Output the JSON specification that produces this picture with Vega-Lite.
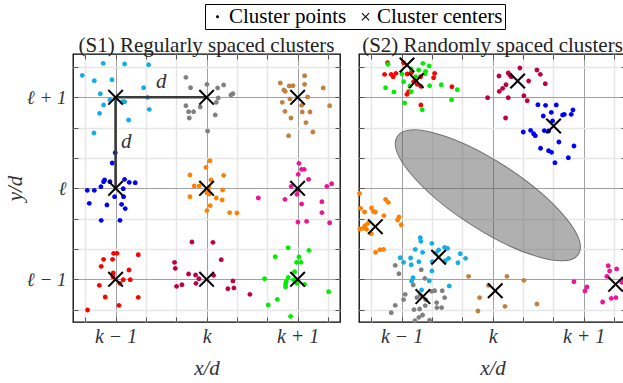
{
  "$schema": "https://vega.github.io/schema/vega-lite/v6.json",
  "autosize": {"type": "pad"},
  "padding": {"left": 3, "top": 3, "right": 0, "bottom": 0},
  "background": "white",
  "config": {
    "view": {"stroke": "black", "strokeWidth": 1.3},
    "font": "Liberation Serif",
    "title": {"font": "Liberation Serif", "fontSize": 21, "fontWeight": "normal", "color": "#222", "offset": -2, "anchor": "middle"},
    "legend": {"orient": "none", "legendX": 132, "legendY": -50, "direction": "horizontal", "title": null,
      "strokeColor": "black", "padding": 2, "labelFont": "Liberation Serif", "labelFontSize": 21, "labelColor": "black",
      "columnPadding": 8, "labelOffset": 1, "symbolOffset": 0, "symbolSize": 64}
  },
  "datasets": {
    "pts1": [
      {"u": -1.136, "v": 1.374, "c": "lb"}, {"u": -0.901, "v": 1.366, "c": "lb"}, {"u": -0.637, "v": 1.359, "c": "lb"}, {"u": -1.366, "v": 1.242, "c": "lb"}, {"u": -1.234, "v": 1.183, "c": "lb"}, {"u": -1.04, "v": 1.194, "c": "lb"}, {"u": -1.168, "v": 1.04, "c": "lb"}, {"u": -1.062, "v": 0.971, "c": "lb"}, {"u": -0.927, "v": 0.952, "c": "lb"}, {"u": -0.901, "v": 0.952, "c": "lb"}, {"u": -1.132, "v": 0.916, "c": "lb"}, {"u": -0.648, "v": 1.0, "c": "lb"}, {"u": -0.692, "v": 1.106, "c": "lb"}, {"u": -1.176, "v": 0.824, "c": "lb"}, {"u": -0.63, "v": 0.868, "c": "lb"}, {"u": -0.857, "v": 0.751, "c": "lb"}, {"u": -1.238, "v": 0.608, "c": "lb"},
      {"u": -0.227, "v": 1.22, "c": "gr"}, {"u": -0.176, "v": 1.106, "c": "gr"}, {"u": 0.004, "v": 1.143, "c": "gr"}, {"u": 0.187, "v": 1.136, "c": "gr"}, {"u": 0.121, "v": 1.103, "c": "gr"}, {"u": 0.267, "v": 1.026, "c": "gr"}, {"u": 0.289, "v": 1.04, "c": "gr"}, {"u": 0.128, "v": 0.993, "c": "gr"}, {"u": 0.106, "v": 0.945, "c": "gr"}, {"u": -0.07, "v": 0.894, "c": "gr"}, {"u": -0.227, "v": 0.908, "c": "gr"}, {"u": -0.198, "v": 0.842, "c": "gr"}, {"u": -0.143, "v": 0.842, "c": "gr"}, {"u": -0.19, "v": 0.773, "c": "gr"}, {"u": 0.095, "v": 0.806, "c": "gr"}, {"u": 0.011, "v": 0.63, "c": "gr"},
      {"u": 0.81, "v": 1.158, "c": "br"}, {"u": 1.077, "v": 1.238, "c": "br"}, {"u": 0.908, "v": 1.125, "c": "br"}, {"u": 0.949, "v": 1.128, "c": "br"}, {"u": 0.85, "v": 1.081, "c": "br"}, {"u": 0.864, "v": 1.066, "c": "br"}, {"u": 1.077, "v": 1.143, "c": "br"}, {"u": 1.282, "v": 1.103, "c": "br"}, {"u": 1.11, "v": 1.004, "c": "br"}, {"u": 0.916, "v": 0.982, "c": "br"}, {"u": 0.832, "v": 0.945, "c": "br"}, {"u": 1.044, "v": 0.912, "c": "br"}, {"u": 0.861, "v": 0.846, "c": "br"}, {"u": 1.051, "v": 0.839, "c": "br"}, {"u": 1.136, "v": 0.839, "c": "br"}, {"u": 1.352, "v": 0.908, "c": "br"}, {"u": 0.927, "v": 0.773, "c": "br"}, {"u": 1.092, "v": 0.722, "c": "br"}, {"u": 1.168, "v": 0.619, "c": "br"}, {"u": 0.901, "v": 0.579, "c": "br"},
      {"u": -1.004, "v": 0.392, "c": "bl"}, {"u": -1.037, "v": 0.278, "c": "bl"}, {"u": -1.121, "v": 0.092, "c": "bl"}, {"u": -1.132, "v": 0.073, "c": "bl"}, {"u": -1.161, "v": 0.018, "c": "bl"}, {"u": -1.311, "v": -0.022, "c": "bl"}, {"u": -1.234, "v": -0.022, "c": "bl"}, {"u": -1.062, "v": 0.073, "c": "bl"}, {"u": -1.011, "v": -0.092, "c": "bl"}, {"u": -0.901, "v": 0.099, "c": "bl"}, {"u": -0.85, "v": 0.066, "c": "bl"}, {"u": -0.784, "v": 0.062, "c": "bl"}, {"u": -0.916, "v": -0.004, "c": "bl"}, {"u": -1.289, "v": -0.165, "c": "bl"}, {"u": -1.095, "v": -0.183, "c": "bl"}, {"u": -0.934, "v": -0.176, "c": "bl"}, {"u": -0.894, "v": -0.223, "c": "bl"}, {"u": -1.158, "v": -0.352, "c": "bl"}, {"u": -0.952, "v": -0.352, "c": "bl"}, {"u": -0.912, "v": -0.092, "c": "bl"},
      {"u": 0.037, "v": 0.304, "c": "or"}, {"u": -0.007, "v": 0.231, "c": "or"}, {"u": -0.183, "v": 0.147, "c": "or"}, {"u": 0.187, "v": 0.143, "c": "or"}, {"u": 0.048, "v": 0.092, "c": "or"}, {"u": -0.136, "v": 0.026, "c": "or"}, {"u": -0.081, "v": 0.026, "c": "or"}, {"u": 0.026, "v": 0.004, "c": "or"}, {"u": 0.004, "v": -0.048, "c": "or"}, {"u": 0.029, "v": -0.062, "c": "or"}, {"u": 0.176, "v": -0.018, "c": "or"}, {"u": 0.106, "v": -0.106, "c": "or"}, {"u": -0.183, "v": -0.092, "c": "or"}, {"u": 0.172, "v": -0.128, "c": "or"}, {"u": 0.04, "v": -0.19, "c": "or"}, {"u": 0.004, "v": -0.245, "c": "or"}, {"u": 0.253, "v": -0.267, "c": "or"}, {"u": 0.333, "v": -0.271, "c": "or"},
      {"u": 1.015, "v": 0.275, "c": "pk"}, {"u": 1.044, "v": 0.209, "c": "pk"}, {"u": 1.073, "v": 0.209, "c": "pk"}, {"u": 1.007, "v": 0.154, "c": "pk"}, {"u": 1.121, "v": 0.099, "c": "pk"}, {"u": 0.93, "v": 0.022, "c": "pk"}, {"u": 1.007, "v": -0.022, "c": "pk"}, {"u": 1.322, "v": 0.022, "c": "pk"}, {"u": 1.374, "v": 0.051, "c": "pk"}, {"u": 0.568, "v": -0.106, "c": "pk"}, {"u": 0.861, "v": -0.121, "c": "pk"}, {"u": 0.993, "v": -0.066, "c": "pk"}, {"u": 1.044, "v": -0.172, "c": "pk"}, {"u": 1.267, "v": -0.147, "c": "pk"}, {"u": 1.267, "v": -0.267, "c": "pk"}, {"u": 1.004, "v": -0.37, "c": "pk"}, {"u": 1.099, "v": -0.363, "c": "pk"}, {"u": 1.352, "v": -0.377, "c": "pk"},
      {"u": -1.022, "v": -0.714, "c": "rd"}, {"u": -0.985, "v": -0.714, "c": "rd"}, {"u": -0.751, "v": -0.729, "c": "rd"}, {"u": -1.132, "v": -0.78, "c": "rd"}, {"u": -1.033, "v": -0.78, "c": "rd"}, {"u": -1.158, "v": -0.857, "c": "rd"}, {"u": -1.026, "v": -0.93, "c": "rd"}, {"u": -0.853, "v": -0.897, "c": "rd"}, {"u": -0.916, "v": -1.004, "c": "rd"}, {"u": -0.839, "v": -1.004, "c": "rd"}, {"u": -1.179, "v": -1.066, "c": "rd"}, {"u": -0.952, "v": -1.044, "c": "rd"}, {"u": -1.114, "v": -1.194, "c": "rd"}, {"u": -0.751, "v": -1.198, "c": "rd"}, {"u": -0.963, "v": -1.286, "c": "rd"}, {"u": -1.308, "v": -1.337, "c": "rd"}, {"u": -1.029, "v": -0.971, "c": "rd"},
      {"u": -0.161, "v": -0.59, "c": "cr"}, {"u": 0.07, "v": -0.593, "c": "cr"}, {"u": 0.161, "v": -0.784, "c": "cr"}, {"u": -0.352, "v": -0.813, "c": "cr"}, {"u": -0.344, "v": -0.879, "c": "cr"}, {"u": -0.198, "v": -0.941, "c": "cr"}, {"u": -0.121, "v": -0.952, "c": "cr"}, {"u": -0.084, "v": -0.993, "c": "cr"}, {"u": 0.077, "v": -0.956, "c": "cr"}, {"u": 0.289, "v": -1.018, "c": "cr"}, {"u": -0.33, "v": -1.077, "c": "cr"}, {"u": -0.271, "v": -1.059, "c": "cr"}, {"u": -0.117, "v": -1.044, "c": "cr"}, {"u": 0.234, "v": -1.103, "c": "cr"}, {"u": 0.3, "v": -1.095, "c": "cr"}, {"u": 0.476, "v": -1.165, "c": "cr"},
      {"u": 0.897, "v": -0.652, "c": "gn"}, {"u": 1.125, "v": -0.681, "c": "gn"}, {"u": 0.755, "v": -0.751, "c": "gn"}, {"u": 1.015, "v": -0.755, "c": "gn"}, {"u": 0.989, "v": -0.813, "c": "gn"}, {"u": 1.037, "v": -0.813, "c": "gn"}, {"u": 0.637, "v": -0.993, "c": "gn"}, {"u": 0.967, "v": -0.916, "c": "gn"}, {"u": 0.897, "v": -0.978, "c": "gn"}, {"u": 0.875, "v": -1.022, "c": "gn"}, {"u": 0.868, "v": -1.051, "c": "gn"}, {"u": 0.868, "v": -1.081, "c": "gn"}, {"u": 0.956, "v": -1.007, "c": "gn"}, {"u": 0.993, "v": -1.044, "c": "gn"}, {"u": 1.077, "v": -1.055, "c": "gn"}, {"u": 1.341, "v": -1.136, "c": "gn"}, {"u": 0.777, "v": -1.22, "c": "gn"}, {"u": 0.678, "v": -1.282, "c": "gn"}, {"u": 0.923, "v": -1.407, "c": "gn"}
    ],
    "pts2": [
      {"u": -1.154, "v": 1.381, "c": "rd"}, {"u": -1.187, "v": 1.253, "c": "rd"}, {"u": -1.114, "v": 1.253, "c": "rd"}, {"u": -1.062, "v": 1.264, "c": "rd"}, {"u": -1.092, "v": 1.227, "c": "rd"}, {"u": -0.938, "v": 1.256, "c": "rd"}, {"u": -0.894, "v": 1.271, "c": "rd"}, {"u": -0.791, "v": 1.227, "c": "rd"}, {"u": -0.637, "v": 1.264, "c": "rd"}, {"u": -0.648, "v": 1.216, "c": "rd"}, {"u": -0.868, "v": 1.172, "c": "rd"}, {"u": -0.828, "v": 1.143, "c": "rd"}, {"u": -0.788, "v": 1.121, "c": "rd"}, {"u": -0.447, "v": 1.117, "c": "rd"}, {"u": -0.923, "v": 1.062, "c": "rd"}, {"u": -0.941, "v": 1.033, "c": "rd"}, {"u": -0.788, "v": 0.916, "c": "rd"}, {"u": -0.978, "v": 1.381, "c": "rd"},
      {"u": -1.15, "v": 1.363, "c": "gn"}, {"u": -0.766, "v": 1.374, "c": "gn"}, {"u": -0.696, "v": 1.344, "c": "gn"}, {"u": -0.894, "v": 1.311, "c": "gn"}, {"u": -0.813, "v": 1.3, "c": "gn"}, {"u": -0.736, "v": 1.286, "c": "gn"}, {"u": -0.744, "v": 1.26, "c": "gn"}, {"u": -0.996, "v": 1.256, "c": "gn"}, {"u": -0.846, "v": 1.227, "c": "gn"}, {"u": -0.978, "v": 1.172, "c": "gn"}, {"u": -0.908, "v": 1.125, "c": "gn"}, {"u": -0.692, "v": 1.128, "c": "gn"}, {"u": -0.564, "v": 1.139, "c": "gn"}, {"u": -0.388, "v": 1.084, "c": "gn"}, {"u": -1.176, "v": 1.106, "c": "gn"}, {"u": -1.084, "v": 1.059, "c": "gn"}, {"u": -0.894, "v": 1.062, "c": "gn"}, {"u": -0.967, "v": 0.938, "c": "gn"}, {"u": -0.451, "v": 0.974, "c": "gn"}, {"u": -0.773, "v": 0.864, "c": "gn"},
      {"u": 0.3, "v": 1.322, "c": "cr"}, {"u": 0.487, "v": 1.3, "c": "cr"}, {"u": 0.524, "v": 1.253, "c": "cr"}, {"u": 0.07, "v": 1.234, "c": "cr"}, {"u": 0.172, "v": 1.267, "c": "cr"}, {"u": 0.19, "v": 1.245, "c": "cr"}, {"u": 0.205, "v": 1.227, "c": "cr"}, {"u": 0.147, "v": 1.139, "c": "cr"}, {"u": 0.11, "v": 1.099, "c": "cr"}, {"u": 0.073, "v": 1.066, "c": "cr"}, {"u": 0.396, "v": 1.179, "c": "cr"}, {"u": 0.579, "v": 1.15, "c": "cr"}, {"u": 0.344, "v": 1.018, "c": "cr"}, {"u": -0.055, "v": 0.996, "c": "cr"}, {"u": 0.172, "v": 0.996, "c": "cr"}, {"u": 0.381, "v": 0.963, "c": "cr"}, {"u": 0.143, "v": 0.773, "c": "cr"},
      {"u": 0.582, "v": 0.912, "c": "bl"}, {"u": 0.7, "v": 0.916, "c": "bl"}, {"u": 0.498, "v": 0.919, "c": "bl"}, {"u": 0.557, "v": 0.795, "c": "bl"}, {"u": 0.645, "v": 0.835, "c": "bl"}, {"u": 0.769, "v": 0.806, "c": "bl"}, {"u": 0.788, "v": 0.813, "c": "bl"}, {"u": 0.864, "v": 0.813, "c": "bl"}, {"u": 0.883, "v": 0.861, "c": "bl"}, {"u": 0.659, "v": 0.74, "c": "bl"}, {"u": 0.615, "v": 0.63, "c": "bl"}, {"u": 0.337, "v": 0.619, "c": "bl"}, {"u": 0.418, "v": 0.637, "c": "bl"}, {"u": 0.451, "v": 0.601, "c": "bl"}, {"u": 0.469, "v": 0.579, "c": "bl"}, {"u": 0.568, "v": 0.634, "c": "bl"}, {"u": 0.729, "v": 0.509, "c": "bl"}, {"u": 0.527, "v": 0.44, "c": "bl"}, {"u": 0.615, "v": 0.414, "c": "bl"}, {"u": 0.648, "v": 0.396, "c": "bl"}, {"u": 0.894, "v": 0.465, "c": "bl"}, {"u": 0.832, "v": 0.337, "c": "bl"}, {"u": 0.685, "v": 0.282, "c": "bl"},
      {"u": -1.462, "v": -0.055, "c": "or"}, {"u": -1.176, "v": -0.121, "c": "or"}, {"u": -1.147, "v": -0.154, "c": "or"}, {"u": -1.33, "v": -0.216, "c": "or"}, {"u": -1.311, "v": -0.253, "c": "or"}, {"u": -1.289, "v": -0.26, "c": "or"}, {"u": -1.407, "v": -0.26, "c": "or"}, {"u": -1.45, "v": -0.22, "c": "or"}, {"u": -1.194, "v": -0.3, "c": "or"}, {"u": -1.029, "v": -0.315, "c": "or"}, {"u": -1.044, "v": -0.348, "c": "or"}, {"u": -1.37, "v": -0.385, "c": "or"}, {"u": -1.403, "v": -0.41, "c": "or"}, {"u": -1.425, "v": -0.44, "c": "or"}, {"u": -1.385, "v": -0.451, "c": "or"}, {"u": -1.458, "v": -0.447, "c": "or"}, {"u": -1.004, "v": -0.399, "c": "or"}, {"u": -1.333, "v": -0.498, "c": "or"}, {"u": -1.286, "v": -0.703, "c": "or"}, {"u": -1.238, "v": -0.674, "c": "or"}, {"u": -1.198, "v": -0.67, "c": "or"},
      {"u": -0.795, "v": -0.542, "c": "lb"}, {"u": -0.788, "v": -0.582, "c": "lb"}, {"u": -0.667, "v": -0.604, "c": "lb"}, {"u": -0.593, "v": -0.678, "c": "lb"}, {"u": -0.527, "v": -0.648, "c": "lb"}, {"u": -0.495, "v": -0.659, "c": "lb"}, {"u": -0.85, "v": -0.67, "c": "lb"}, {"u": -0.769, "v": -0.703, "c": "lb"}, {"u": -0.623, "v": -0.711, "c": "lb"}, {"u": -1.015, "v": -0.762, "c": "lb"}, {"u": -0.901, "v": -0.766, "c": "lb"}, {"u": -0.81, "v": -0.806, "c": "lb"}, {"u": -0.663, "v": -0.806, "c": "lb"}, {"u": -0.52, "v": -0.795, "c": "lb"}, {"u": -0.484, "v": -0.769, "c": "lb"}, {"u": -0.355, "v": -0.718, "c": "lb"}, {"u": -0.297, "v": -0.769, "c": "lb"}, {"u": -0.381, "v": -0.817, "c": "lb"}, {"u": -0.978, "v": -0.813, "c": "lb"}, {"u": -0.894, "v": -0.839, "c": "lb"}, {"u": -0.667, "v": -0.908, "c": "lb"}, {"u": -0.875, "v": -0.982, "c": "lb"}, {"u": -0.89, "v": -1.018, "c": "lb"}, {"u": -0.696, "v": -1.015, "c": "lb"}, {"u": -0.476, "v": -1.073, "c": "lb"}, {"u": -0.78, "v": -1.117, "c": "lb"},
      {"u": -1.07, "v": -0.846, "c": "gr"}, {"u": -1.029, "v": -0.938, "c": "gr"}, {"u": -0.784, "v": -0.894, "c": "gr"}, {"u": -0.744, "v": -0.989, "c": "gr"}, {"u": -0.872, "v": -1.062, "c": "gr"}, {"u": -0.67, "v": -1.132, "c": "gr"}, {"u": -0.637, "v": -1.125, "c": "gr"}, {"u": -0.553, "v": -1.125, "c": "gr"}, {"u": -0.832, "v": -1.201, "c": "gr"}, {"u": -0.795, "v": -1.172, "c": "gr"}, {"u": -0.96, "v": -1.165, "c": "gr"}, {"u": -0.978, "v": -1.223, "c": "gr"}, {"u": -0.736, "v": -1.223, "c": "gr"}, {"u": -0.615, "v": -1.256, "c": "gr"}, {"u": -0.527, "v": -1.201, "c": "gr"}, {"u": -1.07, "v": -1.286, "c": "gr"}, {"u": -1.114, "v": -1.366, "c": "gr"}, {"u": -0.864, "v": -1.333, "c": "gr"}, {"u": -0.802, "v": -1.326, "c": "gr"}, {"u": -0.612, "v": -1.311, "c": "gr"}, {"u": -0.56, "v": -1.311, "c": "gr"}, {"u": -0.769, "v": -1.392, "c": "gr"}, {"u": -0.81, "v": -1.418, "c": "gr"}, {"u": -0.853, "v": -1.455, "c": "gr"}, {"u": -0.692, "v": -1.45, "c": "gr"}, {"u": -0.74, "v": -1.289, "c": "gr"},
      {"u": -0.264, "v": -0.967, "c": "br"}, {"u": 0.158, "v": -0.967, "c": "br"}, {"u": 0.344, "v": -1.011, "c": "br"}, {"u": -0.143, "v": -1.201, "c": "br"}, {"u": 0.136, "v": -1.297, "c": "br"}, {"u": -0.161, "v": -1.348, "c": "br"}, {"u": 0.487, "v": -1.271, "c": "br"}, {"u": -0.044, "v": -1.066, "c": "br"},
      {"u": 1.271, "v": -0.85, "c": "pk"}, {"u": 1.286, "v": -0.908, "c": "pk"}, {"u": 1.363, "v": -0.886, "c": "pk"}, {"u": 1.256, "v": -0.967, "c": "pk"}, {"u": 0.894, "v": -1.026, "c": "pk"}, {"u": 1.037, "v": -1.084, "c": "pk"}, {"u": 1.015, "v": -1.128, "c": "pk"}, {"u": 1.209, "v": -1.249, "c": "pk"}, {"u": 1.304, "v": -1.209, "c": "pk"}, {"u": 1.355, "v": -1.201, "c": "pk"}, {"u": 1.421, "v": -1.033, "c": "pk"}
    ],
    "cen1": [
      {"u": -1, "v": 1}, {"u": 0, "v": 1}, {"u": 1, "v": 1},
      {"u": -1, "v": 0}, {"u": 0, "v": 0}, {"u": 1, "v": 0},
      {"u": -1, "v": -1}, {"u": 0, "v": -1}, {"u": 1, "v": -1}
    ],
    "cen2": [
      {"u": -0.941, "v": 1.355}, {"u": -0.839, "v": 1.183}, {"u": 0.275, "v": 1.179},
      {"u": 0.67, "v": 0.685}, {"u": -1.289, "v": -0.421}, {"u": -0.593, "v": -0.758},
      {"u": -0.766, "v": -1.19}, {"u": 0.029, "v": -1.125}, {"u": 1.352, "v": -1.055}
    ],
    "dlines": [
      {"u": -1, "v": 1, "u2": 0, "v2": 1},
      {"u": -1, "v": 1, "u2": -1, "v2": 0}
    ],
    "dlabels": [
      {"u": -0.498, "v": 1.165, "t": "d"},
      {"u": -0.883, "v": 0.513, "t": "d"}
    ],
    "ell": [{"u": -0.052, "v": -0.077}]
  },
  "spacing": 14,
  "hconcat": [
    {
      "width": 267,
      "height": 268,
      "title": {"text": "(S1) Regularly spaced clusters"},
      "resolve": {"axis": {"x": "independent", "y": "independent"}},
      "layer": [
        {
          "data": {"name": "pts1"},
          "mark": {"type": "point", "filled": true, "size": 160, "opacity": 1},
          "encoding": {
            "x": {"field": "u", "type": "quantitative", "scale": {"domain": [-1.468, 1.466], "nice": false, "zero": false},
              "axis": {"orient": "bottom", "values": [-1.3333, -1, -0.6667, -0.3333, 0, 0.3333, 0.6667, 1, 1.3333],
                "labelExpr": "abs(datum.value+1)<0.01 ? 'k − 1' : abs(datum.value)<0.01 ? 'k' : abs(datum.value-1)<0.01 ? 'k + 1' : ''",
                "labelOverlap": false, "labelFlush": false, "grid": true,
                "gridColor": {"condition": {"test": "abs(datum.value - round(datum.value)) < 0.01", "value": "#a0a0a0"}, "value": "#e6e6e6"},
                "gridWidth": {"condition": {"test": "abs(datum.value - round(datum.value)) < 0.01", "value": 1}, "value": 1.5},
                "domain": false, "tickSize": -5, "tickColor": "#555", "tickWidth": 1,
                "labelFont": "Liberation Serif", "labelFontStyle": "italic", "labelFontSize": 20, "labelColor": "#333", "labelPadding": 9,
                "title": "x/d", "titleFont": "Liberation Serif", "titleFontStyle": "italic", "titleFontWeight": "normal", "titleFontSize": 21, "titleColor": "#333", "titlePadding": 11}},
            "y": {"field": "v", "type": "quantitative", "scale": {"domain": [-1.469, 1.476], "nice": false, "zero": false},
              "axis": {"orient": "left", "values": [-1.3333, -1, -0.6667, -0.3333, 0, 0.3333, 0.6667, 1, 1.3333],
                "labelExpr": "abs(datum.value+1)<0.01 ? 'ℓ − 1' : abs(datum.value)<0.01 ? 'ℓ' : abs(datum.value-1)<0.01 ? 'ℓ + 1' : ''",
                "labelOverlap": false, "labelFlush": false, "grid": true,
                "gridColor": {"condition": {"test": "abs(datum.value - round(datum.value)) < 0.01", "value": "#a0a0a0"}, "value": "#e6e6e6"},
                "gridWidth": {"condition": {"test": "abs(datum.value - round(datum.value)) < 0.01", "value": 1}, "value": 1.5},
                "domain": false, "tickSize": -5, "tickColor": "#555", "tickWidth": 1,
                "labelFont": "Liberation Serif", "labelFontStyle": "italic", "labelFontSize": 19, "labelColor": "#333", "labelPadding": 12,
                "title": "y/d", "titleFont": "Liberation Serif", "titleFontStyle": "italic", "titleFontWeight": "normal", "titleFontSize": 21, "titleColor": "#333", "titlePadding": 1}},
            "color": {"field": "c", "type": "nominal", "legend": null,
              "scale": {"domain": ["lb", "gr", "br", "bl", "or", "pk", "rd", "cr", "gn"],
                "range": ["#12aee8", "#808080", "#bf8040", "#0000ff", "#ff8000", "#ee1493", "#ff0000", "#bf0040", "#00ee00"]}},
            "shape": {"datum": "Cluster points", "type": "nominal",
              "scale": {"domain": ["Cluster points", "Cluster centers"],
                "range": ["M-0.38,0A0.38,0.38,0,1,1,0.38,0A0.38,0.38,0,1,1,-0.38,0Z", "M0,0.18L0.82,1L1,0.82L0.18,0L1,-0.82L0.82,-1L0,-0.18L-0.82,-1L-1,-0.82L-0.18,0L-1,0.82L-0.82,1Z"]}}
          }
        },
        {
          "data": {"name": "dlines"},
          "mark": {"type": "rule", "color": "#3a3a3a", "strokeWidth": 2.6},
          "encoding": {
            "x": {"field": "u", "type": "quantitative", "scale": {"domain": [-1.468, 1.466], "nice": false, "zero": false}, "axis": null},
            "y": {"field": "v", "type": "quantitative", "scale": {"domain": [-1.469, 1.476], "nice": false, "zero": false}, "axis": null},
            "x2": {"field": "u2"},
            "y2": {"field": "v2"}
          }
        },
        {
          "data": {"name": "dlabels"},
          "mark": {"type": "text", "font": "Liberation Serif", "fontStyle": "italic", "fontSize": 21, "color": "#333"},
          "encoding": {
            "x": {"field": "u", "type": "quantitative", "scale": {"domain": [-1.468, 1.466], "nice": false, "zero": false}, "axis": null},
            "y": {"field": "v", "type": "quantitative", "scale": {"domain": [-1.469, 1.476], "nice": false, "zero": false}, "axis": null},
            "text": {"field": "t"}
          }
        },
        {
          "data": {"name": "cen1"},
          "mark": {"type": "point", "filled": true, "size": 256, "opacity": 1, "color": "black"},
          "encoding": {
            "x": {"field": "u", "type": "quantitative", "scale": {"domain": [-1.468, 1.466], "nice": false, "zero": false},
              "axis": {"orient": "top", "values": [-1.3333, -1, -0.6667, -0.3333, 0, 0.3333, 0.6667, 1, 1.3333], "labels": false, "grid": false, "domain": false, "tickSize": -5, "tickColor": "#555", "title": null}},
            "y": {"field": "v", "type": "quantitative", "scale": {"domain": [-1.469, 1.476], "nice": false, "zero": false},
              "axis": {"orient": "right", "values": [-1.3333, -1, -0.6667, -0.3333, 0, 0.3333, 0.6667, 1, 1.3333], "labels": false, "grid": false, "domain": false, "tickSize": -5, "tickColor": "#555", "title": null}},
            "shape": {"datum": "Cluster centers", "type": "nominal"}
          }
        }
      ]
    },
    {
      "width": 267,
      "height": 268,
      "title": {"text": "(S2) Randomly spaced clusters"},
      "resolve": {"axis": {"x": "independent", "y": "independent"}},
      "layer": [
        {
          "data": {"name": "ell"},
          "mark": {"type": "point", "shape": "M-1,0A1,0.313,0,1,1,1,0A1,0.313,0,1,1,-1,0Z", "size": 46656, "angle": 33, "filled": true, "fill": "#5a5a5a", "fillOpacity": 0.48, "stroke": "#707070", "strokeWidth": 1, "strokeOpacity": 1, "opacity": 1},
          "encoding": {
            "x": {"field": "u", "type": "quantitative", "scale": {"domain": [-1.468, 1.466], "nice": false, "zero": false}, "axis": null},
            "y": {"field": "v", "type": "quantitative", "scale": {"domain": [-1.469, 1.476], "nice": false, "zero": false}, "axis": null}
          }
        },
        {
          "data": {"name": "pts2"},
          "mark": {"type": "point", "filled": true, "size": 160, "opacity": 1},
          "encoding": {
            "x": {"field": "u", "type": "quantitative", "scale": {"domain": [-1.468, 1.466], "nice": false, "zero": false},
              "axis": {"orient": "bottom", "values": [-1.3333, -1, -0.6667, -0.3333, 0, 0.3333, 0.6667, 1, 1.3333],
                "labelExpr": "abs(datum.value+1)<0.01 ? 'k − 1' : abs(datum.value)<0.01 ? 'k' : abs(datum.value-1)<0.01 ? 'k + 1' : ''",
                "labelOverlap": false, "labelFlush": false, "grid": true,
                "gridColor": {"condition": {"test": "abs(datum.value - round(datum.value)) < 0.01", "value": "#a0a0a0"}, "value": "#e6e6e6"},
                "gridWidth": {"condition": {"test": "abs(datum.value - round(datum.value)) < 0.01", "value": 1}, "value": 1.5},
                "domain": false, "tickSize": -5, "tickColor": "#555", "tickWidth": 1,
                "labelFont": "Liberation Serif", "labelFontStyle": "italic", "labelFontSize": 20, "labelColor": "#333", "labelPadding": 9,
                "title": "x/d", "titleFont": "Liberation Serif", "titleFontStyle": "italic", "titleFontWeight": "normal", "titleFontSize": 21, "titleColor": "#333", "titlePadding": 11}},
            "y": {"field": "v", "type": "quantitative", "scale": {"domain": [-1.469, 1.476], "nice": false, "zero": false},
              "axis": {"orient": "left", "values": [-1.3333, -1, -0.6667, -0.3333, 0, 0.3333, 0.6667, 1, 1.3333],
                "labels": false, "grid": true,
                "gridColor": {"condition": {"test": "abs(datum.value - round(datum.value)) < 0.01", "value": "#a0a0a0"}, "value": "#e6e6e6"},
                "gridWidth": {"condition": {"test": "abs(datum.value - round(datum.value)) < 0.01", "value": 1}, "value": 1.5},
                "domain": false, "tickSize": -5, "tickColor": "#555", "tickWidth": 1, "title": null}},
            "color": {"field": "c", "type": "nominal", "legend": null},
            "shape": {"datum": "Cluster points", "type": "nominal"}
          }
        },
        {
          "data": {"name": "cen2"},
          "mark": {"type": "point", "filled": true, "size": 256, "opacity": 1, "color": "black"},
          "encoding": {
            "x": {"field": "u", "type": "quantitative", "scale": {"domain": [-1.468, 1.466], "nice": false, "zero": false},
              "axis": {"orient": "top", "values": [-1.3333, -1, -0.6667, -0.3333, 0, 0.3333, 0.6667, 1, 1.3333], "labels": false, "grid": false, "domain": false, "tickSize": -5, "tickColor": "#555", "title": null}},
            "y": {"field": "v", "type": "quantitative", "scale": {"domain": [-1.469, 1.476], "nice": false, "zero": false},
              "axis": {"orient": "right", "values": [-1.3333, -1, -0.6667, -0.3333, 0, 0.3333, 0.6667, 1, 1.3333], "labels": false, "grid": false, "domain": false, "tickSize": -5, "tickColor": "#555", "title": null}},
            "shape": {"datum": "Cluster centers", "type": "nominal"}
          }
        }
      ]
    }
  ]
}
